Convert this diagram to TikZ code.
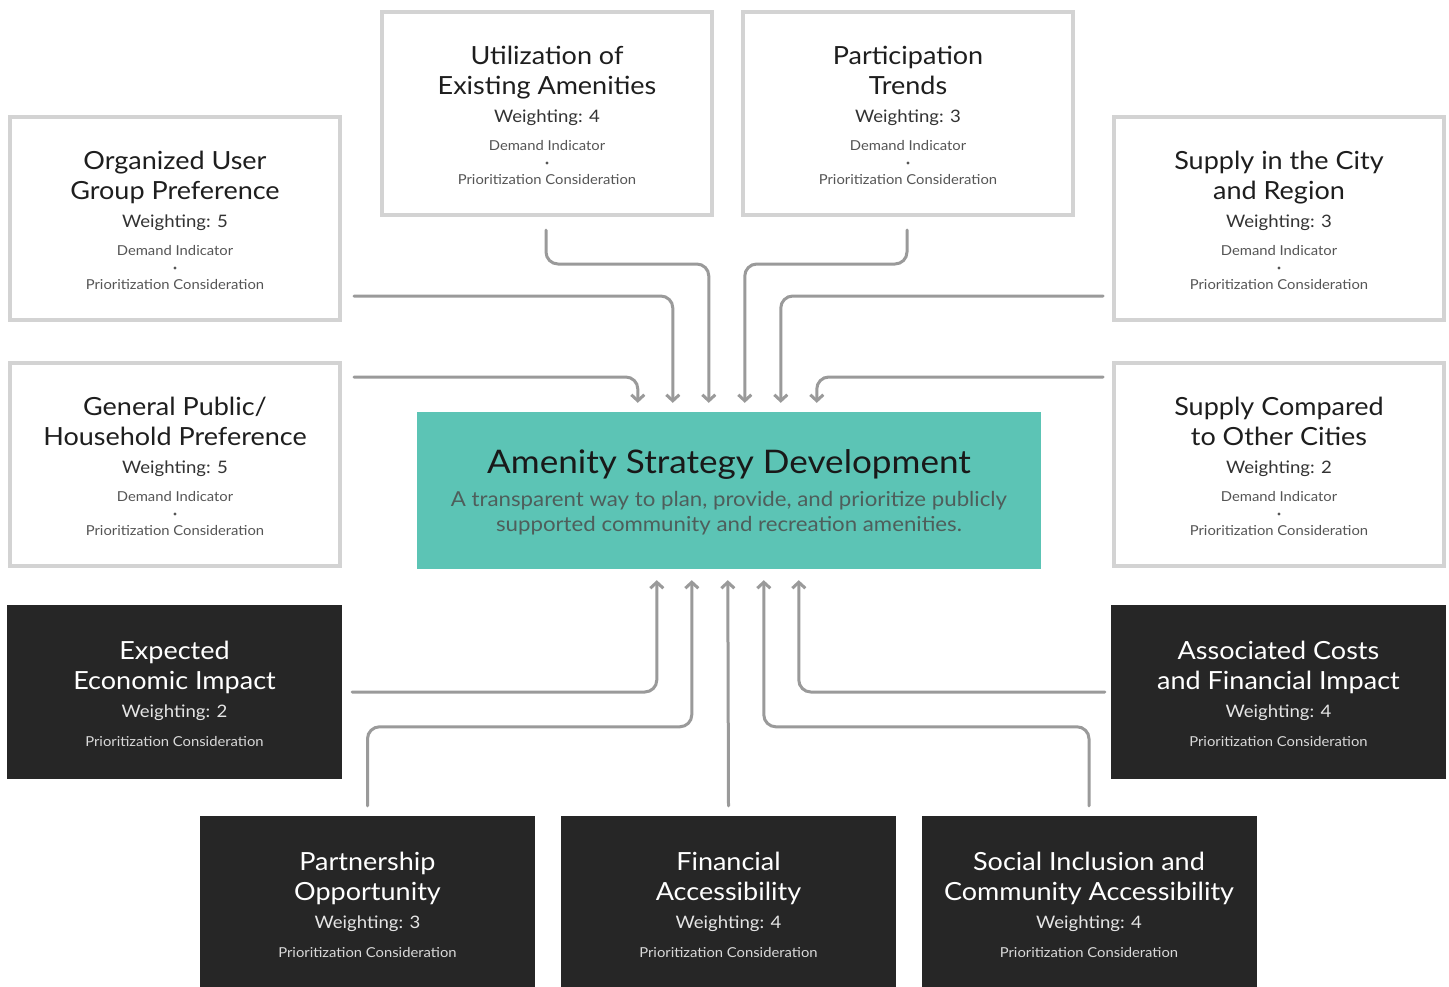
\documentclass[tikz,border=0pt]{standalone}
\usepackage{fontspec}
\setmainfont{Lato}[FakeStretch=1.08]
\usetikzlibrary{arrows.meta,calc}
\definecolor{frame}{HTML}{D3D3D3}
\definecolor{darkfill}{HTML}{262626}
\definecolor{conn}{HTML}{9A9A9A}
\definecolor{tealfill}{HTML}{5CC4B5}
\definecolor{ttlcol}{HTML}{1E1E1E}
\definecolor{wgtcol}{HTML}{333333}
\definecolor{smlcol}{HTML}{555555}
\definecolor{subcol}{HTML}{4E5E5B}
\newcommand\wcrit[6]{%
  \node[wbox] (#1) at (#2,#3+103.5) {};
  \node[ttl] (#1-a) at (#2,#3+54) {#4};
  \node[ttl] (#1-b) at (#2,#3+84) {#5};
  \node[wgt] (#1-w) at (#2,#3+112) {Weighting: #6};
  \node[sml] (#1-d) at (#2,#3+140.5) {Demand Indicator};
  \node[dotmark] (#1-p) at (#2,#3+153) {};
  \node[sml] (#1-c) at (#2,#3+174.5) {Prioritization Consideration};
}
\newcommand\dcrit[6]{%
  \node[dbox] (#1) at (#2,#3+87) {};
  \node[ttl,text=white] (#1-a) at (#2,#3+54) {#4};
  \node[ttl,text=white] (#1-b) at (#2,#3+84) {#5};
  \node[wgt,text=white!90!black] (#1-w) at (#2,#3+112) {Weighting: #6};
  \node[sml,text=white!85!black] (#1-c) at (#2,#3+141.5) {Prioritization Consideration};
}
\begin{document}
\begin{tikzpicture}[x=1pt,y=-1pt,
  wbox/.style={draw=frame, line width=4pt, fill=white, minimum width=330pt, minimum height=203pt, inner sep=0pt},
  dbox/.style={fill=darkfill, minimum width=335pt, minimum height=174pt, inner sep=0pt},
  ttl/.style={anchor=base, inner sep=0pt, text=ttlcol, font=\fontsize{25pt}{30pt}\selectfont},
  wgt/.style={anchor=base, inner sep=0pt, text=wgtcol, font=\fontsize{17.2pt}{20pt}\selectfont},
  sml/.style={anchor=base, inner sep=0pt, text=smlcol, font=\fontsize{13.7pt}{16pt}\selectfont},
  dotmark/.style={circle, fill=smlcol, inner sep=0pt, minimum size=3.4pt},
  cn/.style={draw=conn, line width=3pt, rounded corners=12pt, line cap=round,
    -{Straight Barb[length=6pt,width=13pt]}}
]
\useasboundingbox[fill=white] (0,0) rectangle (1449,986);

% white criteria boxes
\wcrit{org}{175}{115}{Organized User}{Group Preference}{5}
\wcrit{gen}{175}{361}{General Public/}{Household Preference}{5}
\wcrit{util}{547}{10}{Utilization of}{Existing Amenities}{4}
\wcrit{part}{908}{10}{Participation}{Trends}{3}
\wcrit{sup}{1279}{115}{Supply in the City}{and Region}{3}
\wcrit{scmp}{1279}{361}{Supply Compared}{to Other Cities}{2}

% dark criteria boxes
\dcrit{exp}{174.5}{605}{Expected}{Economic Impact}{2}
\dcrit{ass}{1278.5}{605}{Associated Costs}{and Financial Impact}{4}
\dcrit{pn}{367.5}{816}{Partnership}{Opportunity}{3}
\dcrit{fin}{728.5}{816}{Financial}{Accessibility}{4}
\dcrit{soc}{1089}{816}{Social Inclusion and}{Community Accessibility}{4}

% central box
\node[fill=tealfill, minimum width=624pt, minimum height=157pt, inner sep=0pt] (ctr) at (729,490.5) {};
\node[anchor=base, inner sep=0pt, text=black!90, font=\fontsize{32.5pt}{38pt}\selectfont] (ctr-t) at (729,473.5) {Amenity Strategy Development};
\node[anchor=base, inner sep=0pt, text=subcol, font=\fontsize{20.6pt}{24pt}\selectfont] (ctr-s1) at (729,506) {A transparent way to plan, provide, and prioritize publicly};
\node[anchor=base, inner sep=0pt, text=subcol, font=\fontsize{20.6pt}{24pt}\selectfont] (ctr-s2) at (729,531) {supported community and recreation amenities.};

% arrow targets on the central box
\coordinate (t1) at ($(ctr.north west)+(221,-9)$);
\coordinate (t2) at ($(ctr.north west)+(256,-9)$);
\coordinate (t3) at ($(ctr.north west)+(292,-9)$);
\coordinate (t4) at ($(ctr.north west)+(328,-9)$);
\coordinate (t5) at ($(ctr.north west)+(364,-9)$);
\coordinate (t6) at ($(ctr.north west)+(400,-9)$);
\coordinate (b1) at ($(ctr.south west)+(240,11)$);
\coordinate (b2) at ($(ctr.south west)+(275,11)$);
\coordinate (b3) at ($(ctr.south west)+(311,11)$);
\coordinate (b4) at ($(ctr.south west)+(347,11)$);
\coordinate (b5) at ($(ctr.south west)+(382,11)$);

% connector start points
\coordinate (s-org) at ($(org.east)+(12,77.5)$);
\coordinate (s-gen) at ($(gen.east)+(12,-87.5)$);
\coordinate (s-util) at ($(util.south)+(-1,13)$);
\coordinate (s-part) at ($(part.south)+(-1,13)$);
\coordinate (s-sup) at ($(sup.west)+(-9,77.5)$);
\coordinate (s-scmp) at ($(scmp.west)+(-9,-87.5)$);
\coordinate (s-exp) at ($(exp.east)+(10,0)$);
\coordinate (s-ass) at ($(ass.west)+(-6,0)$);
\coordinate (s-pn) at ($(pn.north)+(0,-10)$);
\coordinate (s-fin) at ($(fin.north)+(0,-10)$);
\coordinate (s-soc) at ($(soc.north)+(0,-10)$);

% connectors
\draw[cn] (s-gen) -| (t1);
\draw[cn] (s-org) -| (t2);
\draw[cn] (s-util) -- ++(0,34) -| (t3);
\draw[cn] (s-part) -- ++(0,34) -| (t4);
\draw[cn] (s-sup) -| (t5);
\draw[cn] (s-scmp) -| (t6);
\draw[cn] (s-exp) -| (b1);
\draw[cn] (s-pn) -- ++(0,-79) -| (b2);
\draw[cn] (s-fin) -- (b3);
\draw[cn] (s-soc) -- ++(0,-79) -| (b4);
\draw[cn] (s-ass) -| (b5);
\end{tikzpicture}
\end{document}
